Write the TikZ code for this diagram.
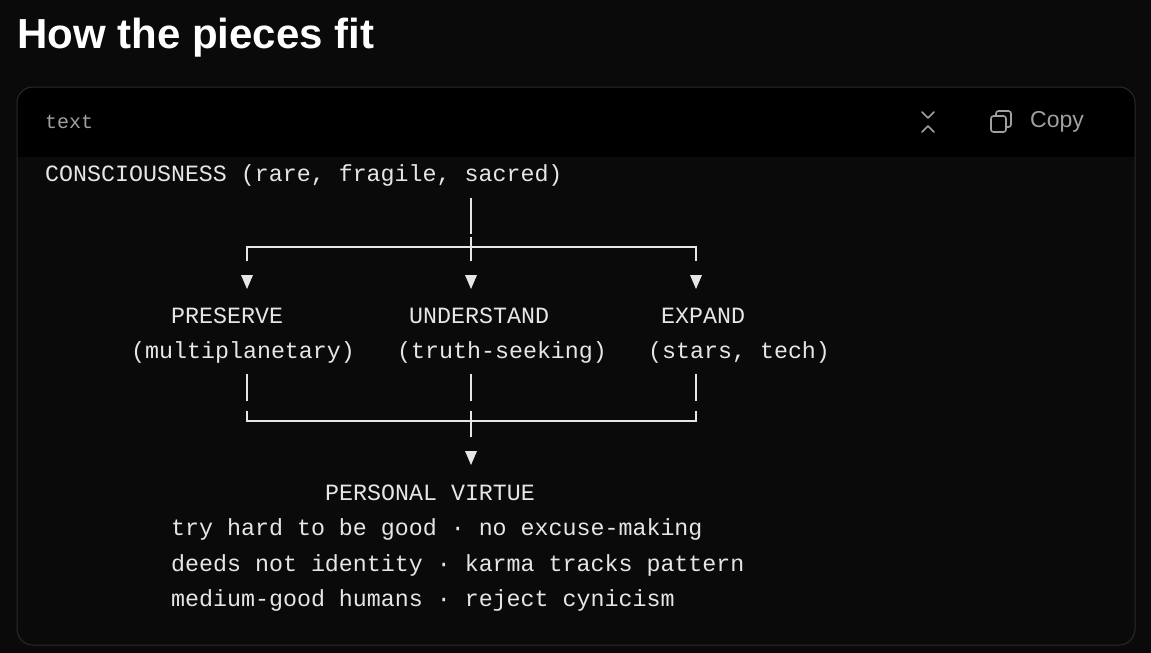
\documentclass[tikz,border=0pt]{standalone}
\usepackage{fontspec}
\setmainfont{Liberation Sans}
\newfontfamily\mono{Liberation Mono}
\begin{document}
\begin{tikzpicture}[x=1pt,y=-1pt,
  t/.style={anchor=west,inner sep=0pt,text=fg,font=\mono\fontsize{23.3}{24}\selectfont},
  ln/.style={draw=fg,line width=1.2pt},
  tip/.style={fill=fg}]
\definecolor{fg}{HTML}{E6E6E6}
\definecolor{bg}{HTML}{0A0A0A}
\definecolor{hd}{HTML}{000000}
\definecolor{bd}{HTML}{2A2A2A}
\definecolor{gr}{HTML}{A0A0A0}
\useasboundingbox (0,0) rectangle (1151,653);
\fill[bg] (0,0) rectangle (1151,653);
\node[anchor=west,inner sep=0pt,text=white,font=\bfseries\fontsize{42}{44}\selectfont] (title) at (17,38) {How the pieces fit};
\begin{scope}
\clip[rounded corners=16] (17,87) rectangle (1135,645);
\fill[hd] (17,87) rectangle (1135,157);
\end{scope}
\draw[bd,line width=1pt,rounded corners=16] (17,87) rectangle (1135,645);
\node[anchor=west,inner sep=0pt,text=gr,font=\mono\fontsize{20}{22}\selectfont] (lang) at (45,122) {text};
\node[anchor=west,inner sep=0pt,text=gr,font=\fontsize{23}{25}\selectfont] (copy) at (1030,122) {Copy};
% collapse icon
\draw[gr,line width=1.6pt,line cap=round,line join=round] (922,112)--(928,118)--(934,112) (922,132)--(928,126)--(934,132);
% copy icon
\draw[gr,line width=1.6pt,rounded corners=2.5] (991,116) rectangle (1006,132);
\draw[gr,line width=1.6pt,rounded corners=2.5] (996,116)--(996,111)--(1011,111)--(1011,127)--(1006,127);
% text
\node[t] (c) at (45,175) {CONSCIOUSNESS (rare, fragile, sacred)};
\node[t] (p) at (171,316) {PRESERVE};
\node[t] (ps) at (131,352) {(multiplanetary)};
\node[t] (u) at (409,316) {UNDERSTAND};
\node[t] (us) at (397,352) {(truth-seeking)};
\node[t] (e) at (661,316) {EXPAND};
\node[t] (es) at (648,352) {(stars, tech)};
\node[t] (v) at (325,493) {PERSONAL VIRTUE};
\node[t] (v1) at (171,529) {try hard to be good · no excuse-making};
\node[t] (v2) at (171,565) {deeds not identity · karma tracks pattern};
\node[t] (v3) at (171,600) {medium-good humans · reject cynicism};
% connectors
\coordinate (c0) at (471,198);
\coordinate (c1) at (471,234);
\coordinate (hl) at (247,247);
\coordinate (hr) at (696,247);
\draw[ln] (c0)--(c1);
\draw[ln] (471,237)--(471,261);
\draw[ln] (247,261)--(hl)--(hr)--(696,261);
\foreach \x in {247,471,696}{\fill[fg] (\x-6,275)--(\x+6,275)--(\x,289)--cycle;}
\draw[ln] (247,374)--(247,401);
\draw[ln] (471,374)--(471,401);
\draw[ln] (696,374)--(696,401);
\draw[ln] (247,411)--(247,421)--(696,421)--(696,411);
\draw[ln] (471,411)--(471,437);
\fill[fg] (465,451)--(477,451)--(471,465)--cycle;
\end{tikzpicture}
\end{document}
